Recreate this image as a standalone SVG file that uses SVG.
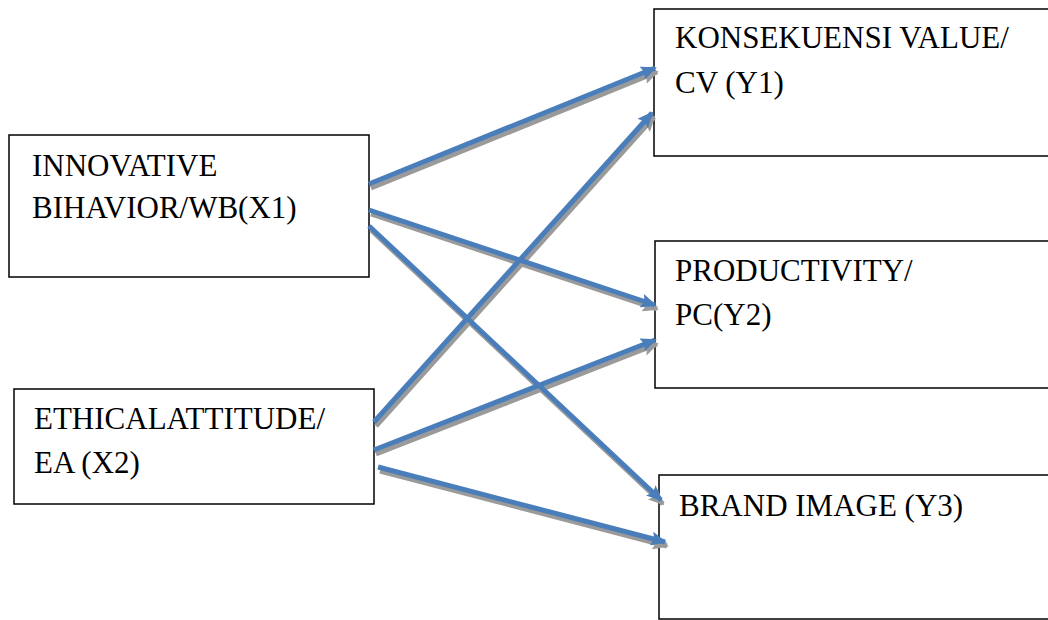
<svg xmlns="http://www.w3.org/2000/svg" width="1048" height="620" viewBox="0 0 1048 620">
<style>
.box{fill:#fff;stroke:#000;stroke-width:1.5}
.t{font-family:"Liberation Serif","Times New Roman",serif;font-size:31px;fill:#000}
.ln{fill:none;stroke:#4a7ebb;stroke-width:5}
.sh{fill:none;stroke:#9a9a9a;stroke-width:5}
</style>
<defs>
<marker id="ab" viewBox="0 0 16 14" refX="14" refY="7" markerWidth="16" markerHeight="14" markerUnits="userSpaceOnUse" orient="auto">
<path d="M0,0 L16,7 L0,14 L3,7 Z" fill="#4a7ebb"/>
</marker>
<marker id="as" viewBox="0 0 16 14" refX="14" refY="7" markerWidth="16" markerHeight="14" markerUnits="userSpaceOnUse" orient="auto">
<path d="M0,0 L16,7 L0,14 L3,7 Z" fill="#9a9a9a"/>
</marker>
</defs>
<rect width="1048" height="620" fill="#fff"/>
<g id="x1">
<rect class="box" x="9" y="135" width="360" height="142"/>
<text class="t" x="32" y="176">INNOVATIVE</text>
<text class="t" x="32" y="218">BIHAVIOR/WB(X1)</text>
</g>
<g id="x2">
<rect class="box" x="14" y="389" width="360" height="115"/>
<text class="t" x="34" y="429">ETHICALATTITUDE/</text>
<text class="t" x="34" y="473">EA (X2)</text>
</g>
<g id="y1">
<rect class="box" x="654" y="9" width="410" height="147"/>
<text class="t" x="675" y="48">KONSEKUENSI VALUE/</text>
<text class="t" x="675" y="93">CV (Y1)</text>
</g>
<g id="y2">
<rect class="box" x="655" y="241" width="410" height="147"/>
<text class="t" x="675" y="281">PRODUCTIVITY/</text>
<text class="t" x="675" y="325">PC(Y2)</text>
</g>
<g id="y3">
<rect class="box" x="659" y="475" width="410" height="144"/>
<text class="t" x="679" y="516">BRAND IMAGE (Y3)</text>
</g>
<g id="connectors">
<g transform="translate(2,4)">
<line class="sh" x1="369" y1="184" x2="655" y2="68" marker-end="url(#as)"/>
<line class="sh" x1="374" y1="422" x2="652" y2="113" marker-end="url(#as)"/>
<line class="sh" x1="369" y1="210" x2="655" y2="305" marker-end="url(#as)"/>
<line class="sh" x1="374" y1="450" x2="655" y2="340" marker-end="url(#as)"/>
<line class="sh" x1="369" y1="226" x2="661" y2="500" marker-end="url(#as)"/>
<line class="sh" x1="378" y1="467" x2="665" y2="542" marker-end="url(#as)"/>
</g>
<line class="ln" x1="369" y1="184" x2="655" y2="68" marker-end="url(#ab)"/>
<line class="ln" x1="374" y1="422" x2="652" y2="113" marker-end="url(#ab)"/>
<line class="ln" x1="369" y1="210" x2="655" y2="305" marker-end="url(#ab)"/>
<line class="ln" x1="374" y1="450" x2="655" y2="340" marker-end="url(#ab)"/>
<line class="ln" x1="369" y1="226" x2="661" y2="500" marker-end="url(#ab)"/>
<line class="ln" x1="378" y1="467" x2="665" y2="542" marker-end="url(#ab)"/>
</g>
</svg>
